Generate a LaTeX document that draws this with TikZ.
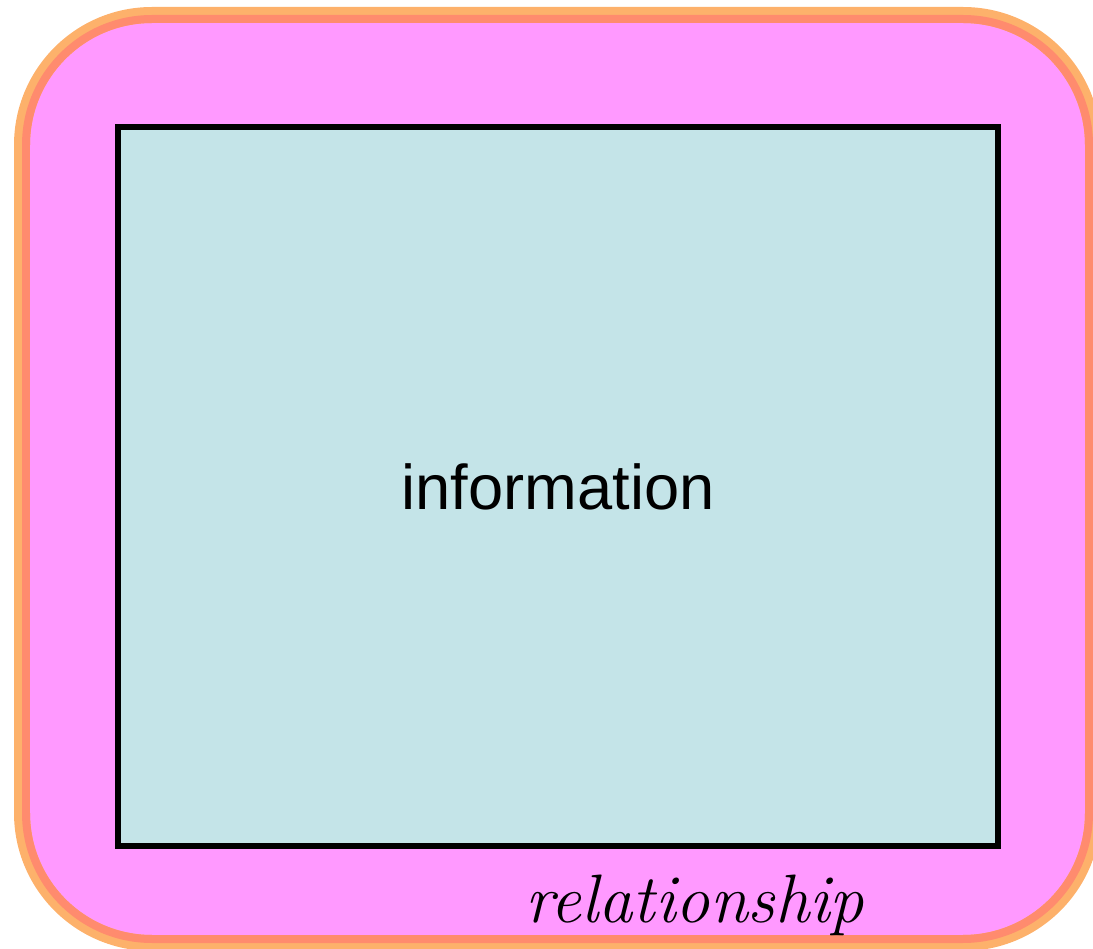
\documentclass[tikz,border=0pt]{standalone}
\usepackage{fontspec}
\setsansfont{Liberation Sans}
\usepackage{tikz}
\usepackage{xcolor}
\usetikzlibrary{positioning}

\definecolor{relpink}{HTML}{FF99FF}
\definecolor{relorange}{HTML}{FDB16B}
\definecolor{relsalmon}{HTML}{FF8B6E}
\definecolor{infocyan}{HTML}{C4E4E8}

\begin{document}
\begin{tikzpicture}[x=0.02cm, y=-0.02cm,
    infobox/.style={draw=black, fill=infocyan, line width=0.12cm,
        minimum width=17.6cm, minimum height=14.38cm,
        font=\sffamily\fontsize{36}{40}\selectfont},
    reltext/.style={font=\itshape\fontsize{39}{42}\selectfont, inner sep=0pt}]
        \useasboundingbox (0,0) rectangle (1093,949);

        % Frame
        \fill[relpink, rounded corners=2.6cm] (22,15) rectangle (1093,943);
        \draw[relorange, line width=0.32cm, rounded corners=2.6cm] (22,15) rectangle (1093,943);
        \draw[relsalmon, line width=0.16cm, rounded corners=2.52cm] (26,19) rectangle (1089,939);

        % Nodes
        \node[infobox] (info) at (558,486.5) {information};
        \node[reltext, anchor=base] (rel) at (695,922) {relationship};
\end{tikzpicture}
\end{document}
